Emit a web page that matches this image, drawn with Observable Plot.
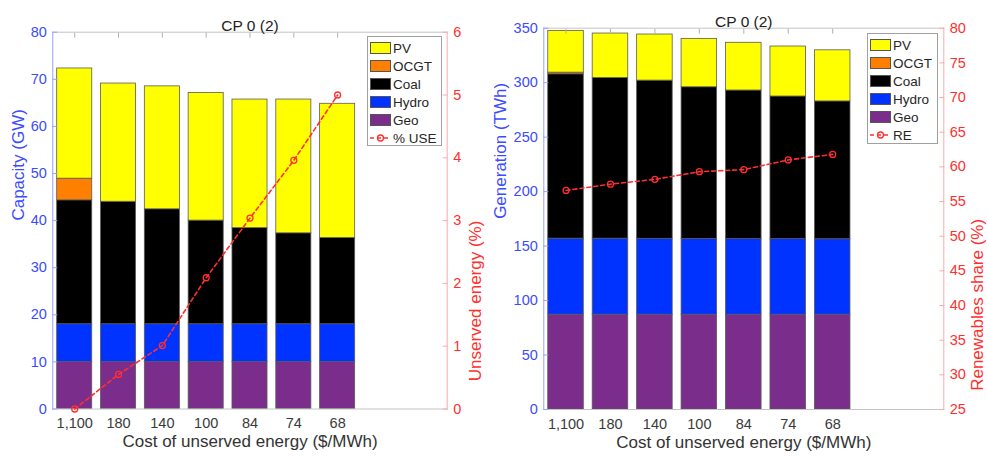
<!DOCTYPE html>
<html>
<head>
<meta charset="utf-8">
<script src="https://cdn.jsdelivr.net/npm/d3@7"></script>
<script src="https://cdn.jsdelivr.net/npm/@observablehq/plot@0.6"></script>
<style>
  body { margin: 0; background: #fff; font-family: "Liberation Sans", Arial, sans-serif; }
  #root { position: relative; width: 987px; height: 458px; overflow: hidden; background: #fff; }
  .layer { position: absolute; top: 0; }
  .legend { position: absolute; border: 1px solid #a0a0a0; background: #fff; box-sizing: border-box;
            font-size: 13.5px; color: #262626; padding: 2px 0 0 2px; }
  .legend .row { display: flex; align-items: center; height: 18px; }
  .legend .sw { width: 21px; height: 12px; box-sizing: border-box; border: 1px solid #555; margin-right: 2px; }
  .legend svg { margin-right: 2px; }
</style>
</head>
<body>
<div id="root"></div>
<script>
// Scenario labels: cost of unserved energy ($/MWh)
const costLabels = ["1,100", "180", "140", "100", "84", "74", "68"];

// Technologies, bottom of stack to top, and their fills
const techNames = ["Geo", "Hydro", "Coal", "OCGT", "PV"];
const techFills = ["#7b2d8c", "#0033ff", "#000000", "#ff8000", "#ffff00"];

// Installed capacity (GW)
const capGeo   = [10, 10, 10, 10, 10, 10, 10];
const capHydro = [8, 8, 8, 8, 8, 8, 8];
const capCoal  = [26.3, 26.0, 24.4, 22.0, 20.4, 19.3, 18.3];
const capOCGT  = [4.6, 0, 0, 0, 0, 0, 0];
const capPV    = [23.4, 25.1, 26.1, 27.1, 27.3, 28.4, 28.5];
// Unserved energy (%)
const unservedPct = [0, 0.55, 1.01, 2.09, 3.04, 3.96, 5.0];

// Annual generation (TWh)
const genGeo   = [87, 87, 87, 87, 87, 87, 87];
const genHydro = [69.8, 69.8, 69.7, 69.6, 69.5, 69.4, 69.3];
const genCoal  = [150.9, 147.5, 145.2, 139.2, 136.3, 130.9, 126.5];
const genOCGT  = [1.5, 0, 0, 0, 0, 0, 0];
const genPV    = [38.3, 40.8, 42.3, 44.4, 43.8, 45.9, 46.9];
// Renewables share (%)
const reSharePct = [56.6, 57.5, 58.2, 59.3, 59.6, 61.0, 61.8];

// Axis tick values
const capTicks = d3.range(0, 81, 10);
const useTicks = d3.range(0, 7, 1);
const genTicks = d3.range(0, 351, 50);
const reTicks  = d3.range(25, 81, 5);

const BLUE = "#3d4bff", BLUE_LINE = "#9aa0ff";
const RED = "#ff2f2f", RED_LINE = "#ffa8a8";
const FONT = "'Liberation Sans', Arial, sans-serif";
const TICK_FS = 14.5;
const positions = costLabels.map((_, i) => i + 1);

// Stack each scenario's technologies into rectangles [y1, y2]
function stackRows(seriesList) {
  const rows = [];
  costLabels.forEach((label, i) => {
    let base = 0;
    seriesList.forEach((values, k) => {
      const v = values[i];
      if (v > 0) rows.push({pos: i + 1, tech: techNames[k], y1: base, y2: base + v});
      base += v;
    });
  });
  return rows;
}

function drawPanel(cfg) {
  const root = document.getElementById("root");
  const common = {
    width: cfg.width, height: 458,
    marginLeft: cfg.ml, marginRight: cfg.mr, marginTop: cfg.mt, marginBottom: cfg.mb,
    style: {fontFamily: FONT, fontSize: TICK_FS + "px", background: "transparent", overflow: "visible"},
    x: {type: "linear", domain: [0.5, 9.5], axis: null}
  };

  // Bars, left axis, category axis, titles
  const base = Plot.plot({
    ...common,
    y: {domain: cfg.leftDomain, axis: null},
    color: {domain: techNames, range: techFills},
    marks: [
      Plot.rect(stackRows(cfg.stacks), {
        x1: d => d.pos - 0.4, x2: d => d.pos + 0.4, y1: "y1", y2: "y2",
        fill: "tech", stroke: "#5a5a5a", strokeWidth: 0.8
      }),
      Plot.frame({anchor: "top", stroke: "#c4c4c4"}),
      Plot.frame({anchor: "bottom", stroke: "#c4c4c4"}),
      Plot.frame({anchor: "left", stroke: BLUE_LINE}),
      Plot.axisY({anchor: "left", ticks: cfg.leftTicks, tickFormat: d3.format("d"), tickSize: 0, tickPadding: 6,
                  fill: BLUE, fontSize: TICK_FS, label: null}),
      Plot.axisY({anchor: "left", ticks: cfg.leftTicks, tickSize: -5, tickFormat: () => "", stroke: BLUE_LINE, label: null}),
      Plot.axisX({anchor: "bottom", ticks: positions, tickFormat: i => costLabels[i - 1],
                  tickSize: 0, tickPadding: 9, fill: "#3a3a3a", fontSize: TICK_FS, label: null}),
      Plot.axisX({anchor: "top", ticks: positions, tickSize: -5, tickFormat: () => "",
                  stroke: "#b0b0b0", label: null}),
      Plot.text(["Cost of unserved energy ($/MWh)"], {frameAnchor: "bottom", dy: 38, fontSize: 17, fill: "#333"}),
      Plot.text([cfg.leftLabel], {frameAnchor: "left", rotate: -90, dx: cfg.leftLabelDx, fontSize: 17, fill: BLUE}),
      Plot.text(["CP 0 (2)"], {frameAnchor: "top", dy: cfg.titleDy, fontSize: 15.5, fill: "#222"})
    ]
  });
  base.classList.add("layer");
  base.style.left = cfg.left + "px";

  // Overlay: line series on its own right-hand axis
  const lineRows = cfg.line.map((v, i) => ({pos: i + 1, v}));
  const over = Plot.plot({
    ...common,
    y: {domain: cfg.rightDomain, axis: null},
    marks: [
      Plot.frame({anchor: "right", stroke: RED_LINE}),
      Plot.axisY({anchor: "right", ticks: cfg.rightTicks, tickFormat: d3.format("d"), tickSize: 0, tickPadding: 6,
                  fill: RED, fontSize: TICK_FS, label: null}),
      Plot.axisY({anchor: "right", ticks: cfg.rightTicks, tickSize: -5, tickFormat: () => "", stroke: RED_LINE, label: null}),
      Plot.line(lineRows, {x: "pos", y: "v", stroke: RED, strokeWidth: 1.6, strokeDasharray: "4,3"}),
      Plot.dot(lineRows, {x: "pos", y: "v", r: 3, stroke: RED, strokeWidth: 1.3, fill: "none"}),
      Plot.text([cfg.rightLabel], {frameAnchor: "right", rotate: -90, dx: cfg.rightLabelDx, fontSize: 17, fill: RED})
    ]
  });
  over.classList.add("layer");
  over.style.left = cfg.left + "px";

  root.appendChild(base);
  root.appendChild(over);

  // Legend box
  const leg = document.createElement("div");
  leg.className = "legend";
  Object.assign(leg.style, {left: cfg.legend.x + "px", top: cfg.legend.y + "px",
                            width: cfg.legend.w + "px", height: cfg.legend.h + "px"});
  const order = ["PV", "OCGT", "Coal", "Hydro", "Geo"];
  order.forEach(name => {
    const row = document.createElement("div");
    row.className = "row";
    const sw = document.createElement("div");
    sw.className = "sw";
    sw.style.background = techFills[techNames.indexOf(name)];
    row.appendChild(sw);
    row.appendChild(document.createTextNode(name));
    leg.appendChild(row);
  });
  const lrow = document.createElement("div");
  lrow.className = "row";
  lrow.innerHTML = `<svg width="21" height="12"><line x1="0" x2="21" y1="6" y2="6" stroke="${RED}" stroke-width="1.6" stroke-dasharray="4,3"/><circle cx="10.5" cy="6" r="3" fill="none" stroke="${RED}" stroke-width="1.3"/></svg>`;
  lrow.appendChild(document.createTextNode(cfg.lineName));
  leg.appendChild(lrow);
  root.appendChild(leg);
}

drawPanel({
  left: 0, width: 490, ml: 52.3, mr: 43.3, mt: 31.7, mb: 49.5,
  stacks: [capGeo, capHydro, capCoal, capOCGT, capPV],
  leftDomain: [0, 80], leftTicks: capTicks, leftLabel: "Capacity (GW)", leftLabelDx: -34,
  rightDomain: [0, 6], rightTicks: useTicks, rightLabel: "Unserved energy (%)", rightLabelDx: 28,
  line: unservedPct, lineName: "% USE", titleDy: -12,
  legend: {x: 367, y: 36, w: 75, h: 110}
});

drawPanel({
  left: 490, width: 497, ml: 53.3, mr: 43.7, mt: 27.7, mb: 49,
  stacks: [genGeo, genHydro, genCoal, genOCGT, genPV],
  leftDomain: [0, 350], leftTicks: genTicks, leftLabel: "Generation (TWh)", leftLabelDx: -43,
  rightDomain: [25, 80], rightTicks: reTicks, rightLabel: "Renewables share (%)", rightLabelDx: 34,
  line: reSharePct, lineName: "RE", titleDy: -12,
  legend: {x: 867, y: 33, w: 71, h: 111}
});
</script>
</body>
</html>
